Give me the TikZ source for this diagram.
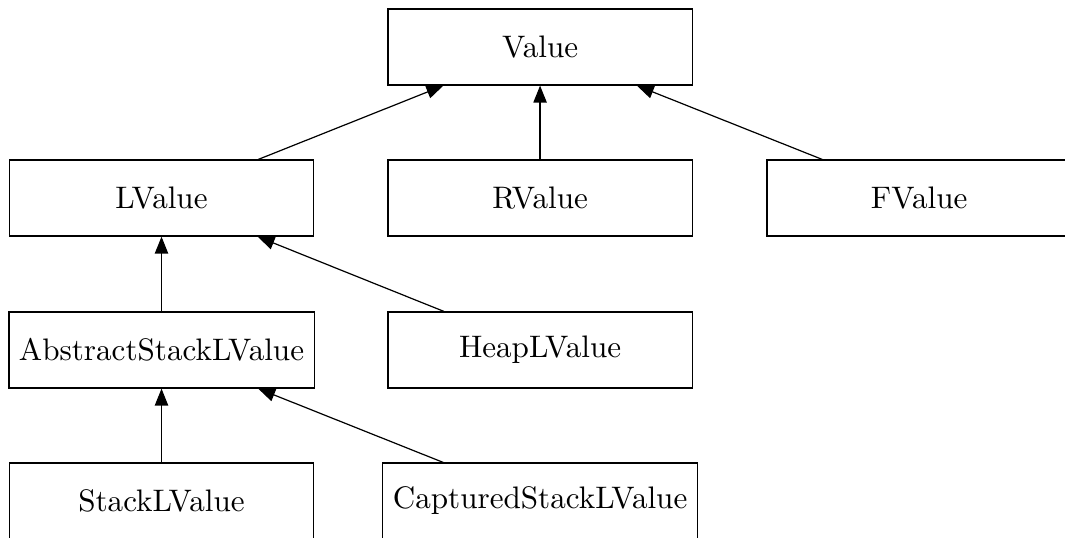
\documentclass[tikz,border=0pt]{standalone}
\usetikzlibrary{arrows.meta}
\begin{document}
\begin{tikzpicture}[>={Triangle[length=5.6pt, width=4.4pt]}, main/.style = {draw, rectangle, minimum width=3.54cm, minimum height=0.884cm, font=\fontsize{10.3}{12}\selectfont}]
    \clip (0,0) rectangle (12.39,6.248);
    \useasboundingbox (0,0) rectangle (12.39,6.248);
    % Disegna i nodi della gerarchia

    \node[main] (0) at (6.283, 5.701) {Value};
    \node[main] (1) at (1.879, 3.944) {LValue};
    \node[main] (2) at (6.283, 3.944) {RValue};
    \node[main] (3) at (10.693, 3.944) {FValue};
    \node[main] (4) at (1.879, 2.176) {AbstractStackLValue};
    \node[main] (5) at (6.283, 2.176) {HeapLValue};
    \node[main] (6) at (1.879, 0.419) {StackLValue};
    \node[main] (7) at (6.283, 0.419) {CapturedStackLValue};

    \draw[->] (1) to (0);
    \draw[->] (2) to (0);
    \draw[->] (3) to (0);
    \draw[->] (4) to (1);
    \draw[->] (5) to (1);
    \draw[->] (6) to (4);
    \draw[->] (7) to (4);

\end{tikzpicture}
\end{document}
